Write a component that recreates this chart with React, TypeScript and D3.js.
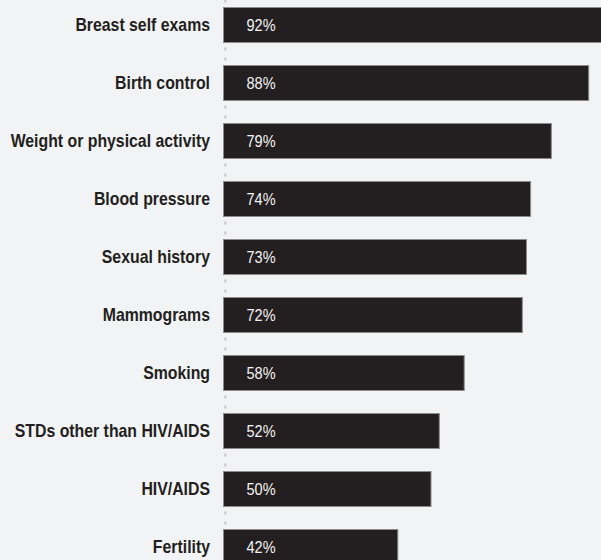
import React from "react";
import * as d3 from "d3";

const categories = [
  "Breast self exams",
  "Birth control",
  "Weight or physical activity",
  "Blood pressure",
  "Sexual history",
  "Mammograms",
  "Smoking",
  "STDs other than HIV/AIDS",
  "HIV/AIDS",
  "Fertility",
];
const values = [92, 88, 79, 74, 73, 72, 58, 52, 50, 42];

const W = 601;
const H = 560;
const FONT = "'Liberation Sans', Arial, Helvetica, sans-serif";
const SQUEEZE = 0.88;

export default function App() {
  const x = d3.scaleLinear().domain([0, 100]).range([224, 639]);
  const y = d3
    .scaleBand<string>()
    .domain(categories)
    .range([7, 565])
    .paddingInner(22 / 58)
    .paddingOuter(0);
  const bw = y.bandwidth();
  const step = y.step();
  const gap = step - bw;

  const gapStarts = [y(categories[0])! - gap, ...categories.map((c) => y(c)! + bw)];

  return (
    <svg
      width={W}
      height={H}
      style={{ position: "absolute", left: 0, top: 0, background: "#f2f3f5" }}
    >
      <rect x={0} y={0} width={W} height={H} fill="#f2f3f5" />
      {gapStarts.map((g, i) =>
        [6, 16].map((o) => (
          <rect
            key={`d${i}-${o}`}
            x={x(0) + 0.3}
            y={g + o - 1.5}
            width={2}
            height={3}
            fill="#c4c6c9"
          />
        ))
      )}
      {categories.map((c, i) => {
        const yy = y(c)!;
        const cy = yy + bw / 2;
        return (
          <g key={c}>
            <rect
              x={x(0) - 0.5}
              y={yy + 0.5}
              width={x(values[i]) - x(0)}
              height={bw - 1}
              fill="#231f20"
              stroke="#8c8b8c"
              strokeWidth={1}
            />
            <text
              transform={`translate(210,${cy + 6}) scale(${SQUEEZE},1)`}
              textAnchor="end"
              fontFamily={FONT}
              fontWeight="bold"
              fontSize={18}
              fill="#231f20"
            >
              {c}
            </text>
            <text
              transform={`translate(${x(0) + 22.5},${cy + 6}) scale(${SQUEEZE},1)`}
              fontFamily={FONT}
              fontSize={16.5}
              fill="#f2f2f2"
            >
              {values[i]}%
            </text>
          </g>
        );
      })}
    </svg>
  );
}
